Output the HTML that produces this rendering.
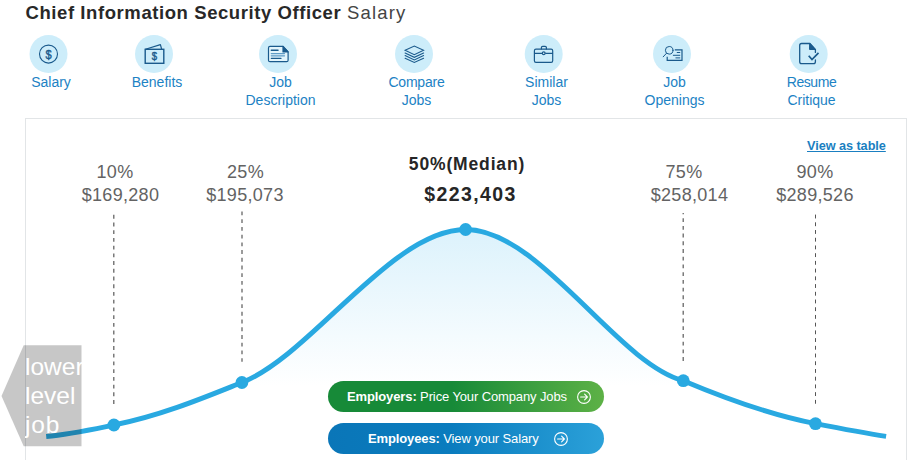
<!DOCTYPE html>
<html>
<head>
<meta charset="utf-8">
<title>Chief Information Security Officer Salary</title>
<style>
html,body{margin:0;padding:0;background:#fff;}
body{width:920px;height:460px;position:relative;overflow:hidden;font-family:"Liberation Sans",sans-serif;}
.abs{position:absolute;white-space:nowrap;}
#t1{left:25.5px;top:1px;font-size:18.5px;line-height:24px;color:#282828;font-weight:bold;letter-spacing:0.58px;}
#t2{left:347px;top:1px;font-size:18.5px;line-height:24px;color:#444;letter-spacing:1.15px;}
.nav{position:absolute;top:74px;width:140px;text-align:center;color:#1c82c4;font-size:14px;line-height:17.5px;}
#box{left:25px;top:118px;width:880px;height:360px;border:1px solid #e2e5e7;}
.pl{position:absolute;text-align:center;color:#636363;font-size:18px;line-height:22px;width:160px;letter-spacing:0.3px;white-space:nowrap;}
.pm{position:absolute;text-align:center;color:#262626;font-weight:bold;width:200px;white-space:nowrap;}
#vat{left:807px;top:137px;font-size:12.7px;letter-spacing:-0.05px;line-height:18px;color:#1a7fc1;font-weight:bold;text-decoration:underline;}
.btn{position:absolute;left:328px;width:276px;height:31.6px;border-radius:16px;color:#fff;font-size:13px;line-height:32px;}
.btn span{position:absolute;top:0.3px;white-space:nowrap;letter-spacing:-0.12px;}
#bg{top:380.6px;background:linear-gradient(90deg,#178a38 0%,#178a38 45%,#5db146 100%);}
#bb{top:422.7px;background:linear-gradient(90deg,#0a76b8 0%,#0a7cbe 45%,#2ba1d9 100%);}
#low{left:0;top:345px;}
#lowt{left:25px;top:351.6px;color:#fff;font-size:24.5px;line-height:29px;width:56.5px;overflow:hidden;}
</style>
</head>
<body>
<div id="t1" class="abs">Chief Information Security Officer</div>
<div id="t2" class="abs">Salary</div>

<div id="box" class="abs"></div>

<svg class="abs" style="left:0;top:0" width="920" height="460" viewBox="0 0 920 460">
  <defs>
    <linearGradient id="fg" x1="0" y1="229" x2="0" y2="386" gradientUnits="userSpaceOnUse">
      <stop offset="0" stop-color="#dcf2fc"/>
      <stop offset="1" stop-color="#ffffff"/>
    </linearGradient>
  </defs>
  <!-- nav circles -->
  <g fill="#cdedfa">
    <circle cx="48.5" cy="54" r="19"/>
    <circle cx="154" cy="54" r="19"/>
    <circle cx="278" cy="54" r="19"/>
    <circle cx="414" cy="54" r="19"/>
    <circle cx="543.7" cy="54" r="19"/>
    <circle cx="672" cy="54" r="19"/>
    <circle cx="808.7" cy="54" r="19"/>
  </g>
  <!-- icons -->
  <g fill="none" stroke="#1a5a8c" stroke-width="1.2" stroke-linejoin="round" stroke-linecap="round">
    <!-- salary -->
    <circle cx="48.5" cy="54.1" r="9" stroke-width="1.1"/>
    <!-- benefits -->
    <rect x="145.2" y="49.3" width="18.6" height="14" stroke-width="1.4" stroke-linejoin="miter"/>
    <path d="M145.5,49.2 L160.4,44.6 L161.6,49"/>
    <!-- job description -->
    <path d="M270,46.4 H283 L288.1,52 V60.2 Q288.1,61.7 286.6,61.7 H270 Q268.5,61.7 268.5,60.2 V47.9 Q268.5,46.4 270,46.4 Z" fill="#e3f5fc"/>
    <path d="M283,46.4 L288.1,52 H283 Z" fill="#1a5a8c"/>
    <path d="M271.3,50.2 H278" stroke-width="1.5"/>
    <path d="M271.3,53.6 H284.5 M271.3,55.8 H284.5" stroke="#5f9cc6" stroke-width="1.3"/>
    <path d="M271.3,58.4 H281" stroke-width="1.1"/>
    <!-- compare jobs -->
    <g stroke-width="1.05" stroke-linejoin="miter">
    <path d="M405.1,50.3 L414.3,46 L423.6,50.3 L414.3,54.7 Z"/>
    <path d="M405.1,53 L414.3,57.3 L423.6,53"/>
    <path d="M405.1,55.6 L414.3,59.9 L423.6,55.6"/>
    <path d="M405.1,58.2 L414.3,62.5 L423.6,58.2"/>
    </g>
    <!-- similar jobs -->
    <rect x="534.4" y="49.1" width="18.3" height="13.2" rx="1.6"/>
    <path d="M541.4,49 V47.6 Q541.4,46.3 542.7,46.3 H545.1 Q546.4,46.3 546.4,47.6 V49"/>
    <path d="M534.6,53.3 H552.5"/>
    <circle cx="543.7" cy="53.3" r="1.4" fill="#e3f5fc"/>
    <!-- job openings -->
    <circle cx="669.2" cy="50.3" r="3.8" stroke-width="1"/>
    <path d="M666.4,53.4 L663.2,56.8" stroke-width="1"/>
    <path d="M674.8,49.9 H682 V60.3 H667.2 V56.8" stroke-width="1.2" stroke-linejoin="miter" stroke-linecap="butt"/>
    <path d="M677.2,52.5 H679.8 M673.3,55.3 H679.8 M675.9,57.9 H679.8" stroke-width="1"/>
    <!-- resume critique -->
    <path d="M815.4,52.4 V49.5 L809.9,43.5 H801.6 Q799.7,43.5 799.7,45.4 V61.7 Q799.7,63.6 801.6,63.6 H813.5 Q815.4,63.6 815.4,61.7 V60" stroke-width="1.3"/>
    <path d="M809.9,43.5 L815.4,49.5 H809.9 Z" fill="#1a5a8c" stroke-width="1"/>
    <path d="M808.7,55.7 L812,59.6 L818.5,52.8" stroke-width="1.7" stroke-linejoin="miter" stroke-linecap="butt"/>
  </g>
  <g fill="#1a5a8c" stroke="#1a5a8c" stroke-width="0.45" font-family="Liberation Sans, sans-serif" text-anchor="middle">
    <text transform="translate(48.5,59) scale(0.82,1)" font-size="13.5">$</text>
    <text transform="translate(154.4,60.2) scale(0.85,1)" font-size="11.2">$</text>
  </g>

  <path id="fill" d="M46.2,436.5 C70,434.3 95,428.8 113.9,425 C162.5,415.4 209,395.6 241.9,382.5 C311.2,355.5 391.9,229.5 465.6,229.5 C539.6,229.5 616.8,363.1 683.3,380.7 C737.9,403.7 784.3,417.6 815.5,423.7 C840,428.5 865,433.2 886.1,436.4 L886.1,460 L46.2,460 Z" fill="url(#fg)"/>
  <g stroke="#606060" stroke-width="1.25" stroke-dasharray="3.86,3.86">
    <line x1="113.8" y1="214.8" x2="113.8" y2="404.7"/>
    <line x1="242" y1="211.5" x2="242" y2="361.7"/>
    <line x1="683.2" y1="213" x2="683.2" y2="361.5" stroke-dashoffset="2.56"/>
    <line x1="815.5" y1="214.6" x2="815.5" y2="404.9" stroke="#555" stroke-width="1"/>
  </g>
  <path id="curve" d="M46.2,436.5 C70,434.3 95,428.8 113.9,425 C162.5,415.4 209,395.6 241.9,382.5 C311.2,355.5 391.9,229.5 465.6,229.5 C539.6,229.5 616.8,363.1 683.3,380.7 C737.9,403.7 784.3,417.6 815.5,423.7 C840,428.5 865,433.2 886.1,436.4" fill="none" stroke="#29a9e1" stroke-width="4.9"/>
  <g fill="#29a9e1">
    <circle cx="113.9" cy="425" r="6.4"/>
    <circle cx="241.9" cy="382.5" r="6.4"/>
    <circle cx="465.6" cy="229.5" r="6.4"/>
    <circle cx="683.3" cy="380.7" r="6.4"/>
    <circle cx="815.5" cy="423.7" r="6.4"/>
  </g>
</svg>

<div class="nav" style="left:-19px">Salary</div>
<div class="nav" style="left:87px">Benefits</div>
<div class="nav" style="left:210.5px">Job<br>Description</div>
<div class="nav" style="left:346.5px"><span style="letter-spacing:-0.2px">Compare</span><br>Jobs</div>
<div class="nav" style="left:476.5px">Similar<br>Jobs</div>
<div class="nav" style="left:604.5px">Job<br>Openings</div>
<div class="nav" style="left:741.5px"><span style="letter-spacing:-0.45px">Resume</span><br>Critique</div>

<div class="pl" style="left:35px;top:161px">10%</div>
<div class="pl" style="left:40.5px;top:184px">$169,280</div>
<div class="pl" style="left:165.5px;top:161px">25%</div>
<div class="pl" style="left:165px;top:184px">$195,073</div>
<div class="pl" style="left:604px;top:161px">75%</div>
<div class="pl" style="left:609.5px;top:184px">$258,014</div>
<div class="pl" style="left:735px;top:161px">90%</div>
<div class="pl" style="left:735px;top:184px">$289,526</div>
<div class="pm" style="left:367px;top:152.6px;font-size:17.5px;line-height:22px;letter-spacing:0.85px">50%(Median)</div>
<div class="pm" style="left:370.5px;top:181px;font-size:19.5px;line-height:26px;letter-spacing:1.4px">$223,403</div>

<div id="vat" class="abs">View as table</div>

<div id="bg" class="btn"><span style="left:19px"><b>Employers:</b> Price Your Company Jobs</span>
<svg class="abs" style="left:247.5px;top:8px" width="16" height="16" viewBox="0 0 16 16"><g fill="none" stroke="#fff" stroke-width="1.1" stroke-linecap="round" stroke-linejoin="round"><circle cx="8" cy="8" r="6.4"/><path d="M4.6,8 H11.2 M8.6,5.2 L11.4,8 L8.6,10.8"/></g></svg></div>
<div id="bb" class="btn"><span style="left:40px"><b>Employees:</b> View your Salary</span>
<svg class="abs" style="left:225px;top:8.3px" width="16" height="16" viewBox="0 0 16 16"><g fill="none" stroke="#fff" stroke-width="1.1" stroke-linecap="round" stroke-linejoin="round"><circle cx="8" cy="8" r="6.4"/><path d="M4.6,8 H11.2 M8.6,5.2 L11.4,8 L8.6,10.8"/></g></svg></div>

<svg id="low" class="abs" width="82" height="102" viewBox="0 0 82 102">
  <polygon points="1.5,51 23.7,0.2 81.5,0.2 81.5,101.2 23.7,101.2" fill="#000" fill-opacity="0.22"/>
</svg>
<div id="lowt" class="abs">lower<br>level<br><span style="letter-spacing:0.8px">job</span></div>
</body>
</html>
